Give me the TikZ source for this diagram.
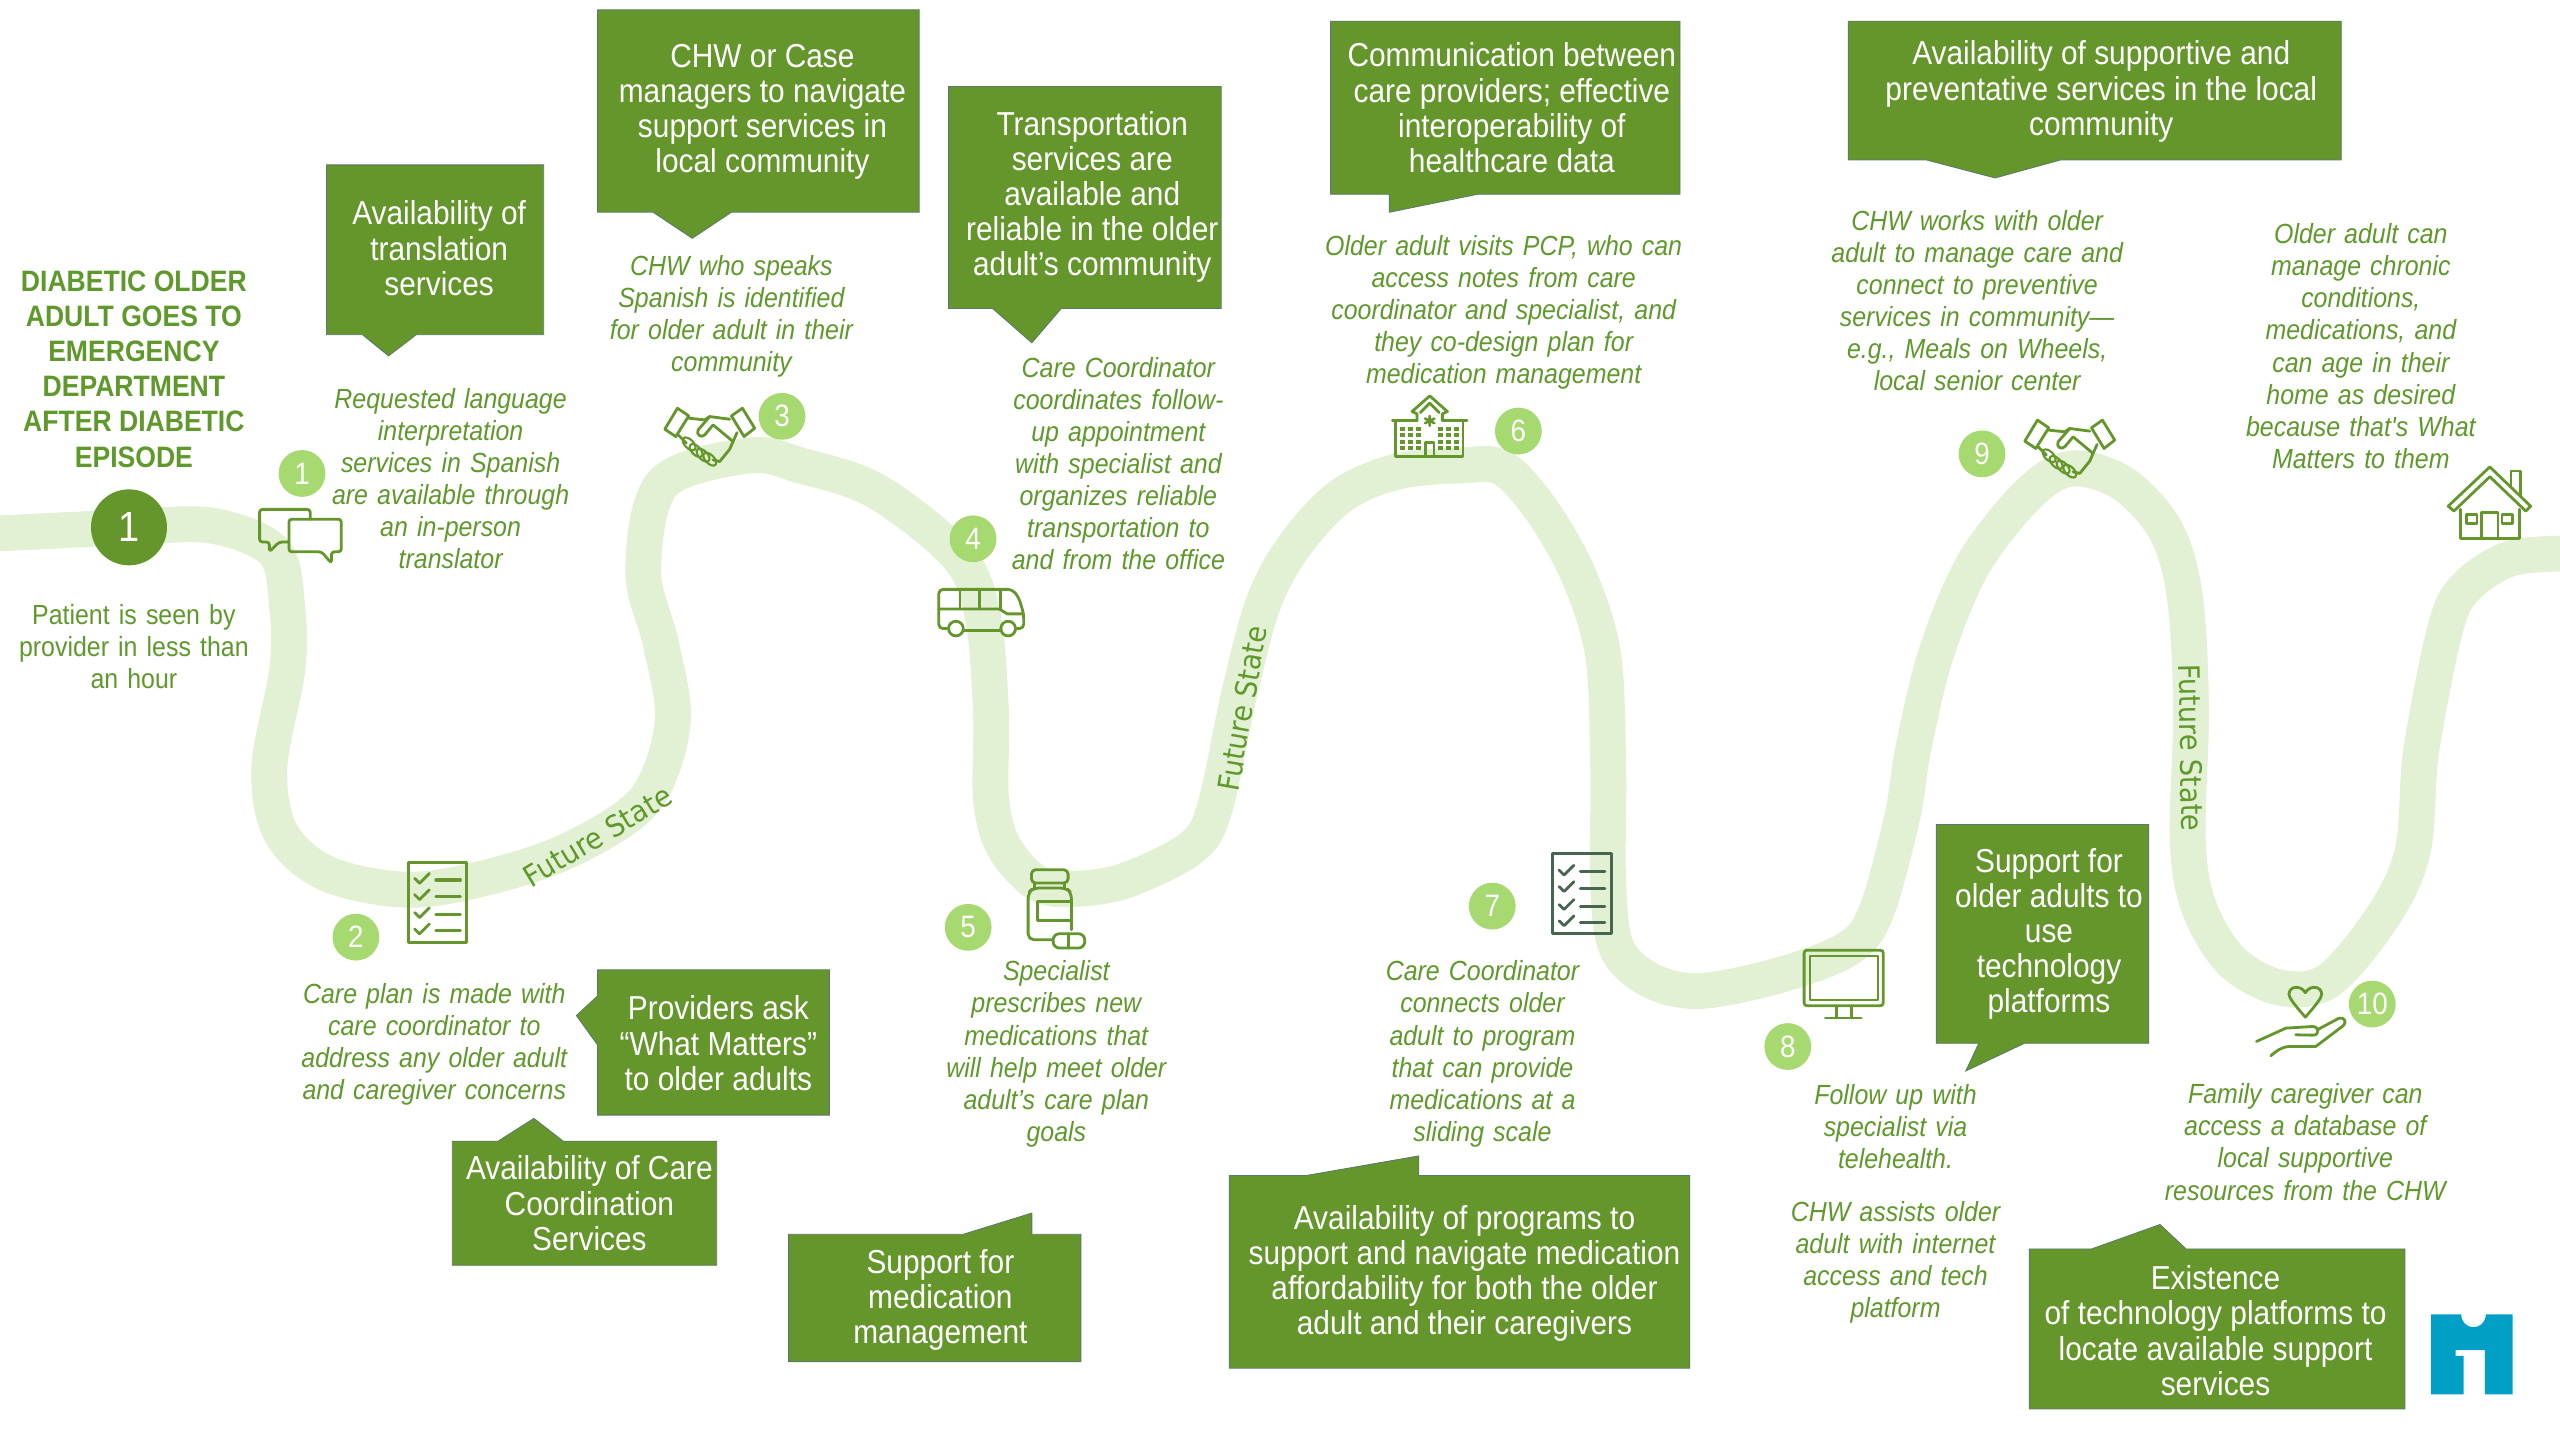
\documentclass[tikz,border=0pt]{standalone}
\usepackage{fontspec}
\setmainfont[FakeStretch=0.9]{Liberation Sans}
\newfontfamily\bodyfam{Liberation Sans}[FakeStretch=0.9,WordSpace=1.32]
\newfontfamily\fsfont{DejaVu Sans}[FakeStretch=0.92]
\definecolor{gtext}{HTML}{5F982B}
\definecolor{gbox}{HTML}{64962B}
\definecolor{gedge}{HTML}{5C7A68}
\definecolor{gpath}{HTML}{E2F0D3}
\definecolor{gnum}{HTML}{A6D96F}
\definecolor{gdark}{HTML}{47664F}
\definecolor{logo}{HTML}{00A0C6}
\tikzset{
  body/.style={text=gtext,align=center,inner sep=0pt,font=\fontsize{19.7}{22.8}\bodyfam\itshape},
  plain/.style={text=gtext,align=center,inner sep=0pt,font=\fontsize{19.7}{22.8}\bodyfam},
  title/.style={text=gtext,align=center,inner sep=0pt,font=\fontsize{21}{25}\selectfont\bfseries},
  boxtext/.style={text=white,align=center,inner sep=0pt,font=\fontsize{23.6}{25}\selectfont},
  callout/.style={fill=gbox,draw=gedge,line width=.6pt},
  num/.style={circle,fill=gnum,text=white,inner sep=0pt,minimum size=1.17cm,font=\fontsize{22}{24}\selectfont},
  icon/.style={draw=gbox,line width=2pt,line join=round,line cap=round},
  fstate/.style={text=gtext,inner sep=0pt,font=\fontsize{21}{24}\fsfont},
}
\newcommand\handshake[2]{%
  \begin{scope}[shift={(#1,#2)},scale=.204,icon]
    \draw (83,85)--(117,108)--(78,170)--(45,148)--cycle;
    \draw (278,85)--(245,108)--(283,170)--(315,145)--cycle;
    \draw (117,115)--(165,120) (165,120)--(180,110)--(240,118);
    \draw (180,110)--(145,150) .. controls (138,165) and (155,175) .. (165,165)--(190,135)--(250,185);
    \draw (262,158)--(250,185)--(240,208)--(210,245)--(190,240);
    \draw (85,165)--(110,190);
    \foreach \a/\b in {118/192,139/212,160/226,180/238}
      \draw[line width=1.5pt,rotate around={-45:(\a,\b)}] (\a,\b) ellipse [x radius=24,y radius=13];
  \end{scope}}
\newcommand\chklist[3]{%
  \begin{scope}[shift={(#1,#2)},line cap=round,line join=round]
    \draw[draw=#3,line width=2.2pt] (0,0) rectangle (36,49);
    \foreach \r in {12,22,33,43}{
      \draw[draw=#3,line width=2pt] (4,\r-2)--(7,\r+1)--(13,\r-5);
      \draw[draw=#3,line width=2.2pt] (17,\r-1)--(32,\r-1);}
  \end{scope}}
\begin{document}
\begin{tikzpicture}[x=0.0408163cm,y=-0.0408163cm]
\useasboundingbox (0,0) rectangle (1568,882);
% road
\draw[gpath,line width=25.5pt,line cap=butt] plot[smooth,tension=.55] coordinates{
 (-6,327)(78,323)(130,322)(168,338)(176,373)(176,410)(165,470)(172,510)(200,535)(250,545)(300,537)
 (350,520)(395,490)(412,443)(405,395)(394,350)(406,296)(459,279)(490,285)(537,301)(587,341)(602,378)(607,437)(607,489)
 (615,519)(637,542)(665,544)(693,538)(730,519)(744,495)(759,425)(774,369)(793,334)(821,304)(855,289)(896,285)(921,287)
 (946,315)(968,355)(982,402)(985,470)(985,540)(990,580)(1010,600)(1041,607)(1091,597)(1132,581)(1149,559)(1165,501)
 (1172,458)(1186,400)(1209,345)(1243,302)(1269,287)(1300,296)(1326,324)(1338,364)(1342,433)(1340,515)(1347,556)(1367,589)
 (1397,605)(1427,600)(1461,559)(1478,520)(1483,460)(1498,384)(1511,359)(1538,342)(1574,339)};
% callouts
\draw[callout] (200,101)--(333,101)--(333,205)--(255,205)--(238,218)--(222,205)--(200,205)--cycle;
\draw[callout] (366,6)--(563,6)--(563,130)--(448,130)--(424,146)--(400,130)--(366,130)--cycle;
\draw[callout] (581,53)--(748,53)--(748,189)--(650,189)--(632,210)--(608,189)--(581,189)--cycle;
\draw[callout] (815,13)--(1029,13)--(1029,119)--(905,119)--(851,130)--(851,119)--(815,119)--cycle;
\draw[callout] (1132,13)--(1434,13)--(1434,98)--(1262,98)--(1222,109)--(1180,98)--(1132,98)--cycle;
\draw[callout] (366,594)--(508,594)--(508,683)--(366,683)--(366,640)--(353,622)--(366,610)--cycle;
\draw[callout] (277,699)--(305,699)--(327,685)--(345,699)--(439,699)--(439,775)--(277,775)--cycle;
\draw[callout] (483,756)--(590,756)--(632,743)--(632,756)--(662,756)--(662,834)--(483,834)--cycle;
\draw[callout] (753,720)--(800,720)--(869,708)--(869,720)--(1035,720)--(1035,838)--(753,838)--cycle;
\draw[callout] (1186,505)--(1316,505)--(1316,639)--(1240,639)--(1204,656)--(1212,639)--(1186,639)--cycle;
\draw[callout] (1243,765)--(1281,765)--(1323,750)--(1339,765)--(1473,765)--(1473,863)--(1243,863)--cycle;
% callout texts
\node[boxtext] (bt1) at (269,152) {Availability of\\translation\\services};
\node[boxtext] (bt2) at (467,68.5) {CHW or Case\\managers to navigate\\support services in\\local community};
\node[boxtext] (bt3) at (669,120.5) {Transportation\\services are\\available and\\reliable in the older\\adult’s community};
\node[boxtext] (bt4) at (926,66) {Communication between\\care providers; effective\\interoperability of\\healthcare data};
\node[boxtext] (bt5) at (1287,56) {Availability of supportive and\\preventative services in the local\\community};
\node[boxtext] (bt6) at (440,639) {Providers ask\\“What Matters”\\to older adults};
\node[boxtext] (bt7) at (361,737) {Availability of Care\\Coordination\\Services};
\node[boxtext] (bt8) at (576,796) {Support for\\medication\\management};
\node[boxtext] (bt9) at (897,780) {Availability of programs to\\support and navigate medication\\affordability for both the older\\adult and their caregivers};
\node[boxtext] (bt10) at (1255,572) {Support for\\older adults to\\use\\technology\\platforms};
\node[boxtext] (bt11) at (1357,815) {Existence\\of technology platforms to\\locate available support\\services};
% title and body
\node[title] (ttl) at (82,226) {DIABETIC OLDER\\ADULT GOES TO\\EMERGENCY\\DEPARTMENT\\AFTER DIABETIC\\EPISODE};
\node[circle,fill=gbox,text=white,inner sep=0pt,minimum size=1.9cm,font=\fontsize{30}{32}\selectfont] (n0) at (79,323) {1};
\node[plain] (t0) at (82,396) {Patient is seen by\\provider in less than\\an hour};
\node[body] (t1) at (276,293) {Requested language\\interpretation\\services in Spanish\\are available through\\an in-person\\translator};
\node[body] (t3) at (448,193.5) {CHW who speaks\\Spanish is identified\\for older adult in their\\community};
\node[body] (t4) at (685,284) {Care Coordinator\\coordinates follow-\\up appointment\\with specialist and\\organizes reliable\\transportation to\\and from the office};
\node[body] (t6) at (921,191.5) {Older adult visits PCP, who can\\access notes from care\\coordinator and specialist, and\\they co-design plan for\\medication management};
\node[body] (t9) at (1211,184) {CHW works with older\\adult to manage care and\\connect to preventive\\services in community—\\e.g., Meals on Wheels,\\local senior center};
\node[body] (t11) at (1446,212) {Older adult can\\manage chronic\\conditions,\\medications, and\\can age in their\\home as desired\\because that{\char"27}s What\\Matters to them};
\node[body] (t2) at (266,639.5) {Care plan is made with\\care coordinator to\\address any older adult\\and caregiver concerns};
\node[body] (t5) at (647,645.5) {Specialist\\prescribes new\\medications that\\will help meet older\\adult’s care plan\\goals};
\node[body] (t7) at (908,645.5) {Care Coordinator\\connects older\\adult to program\\that can provide\\medications at a\\sliding scale};
\node[body] (t8) at (1161,690) {Follow up with\\specialist via\\telehealth.};
\node[body] (t8b) at (1161,773) {CHW assists older\\adult with internet\\access and tech\\platform};
\node[body] (t10) at (1412,699.5) {Family caregiver can\\access a database of\\local supportive\\resources from the CHW};
% numbers
\node[num] (n1) at (185,290) {1};
\node[num] (n2) at (218,574) {2};
\node[num] (n3) at (479,255) {3};
\node[num] (n4) at (596,330) {4};
\node[num] (n5) at (593,568) {5};
\node[num] (n6) at (930,264) {6};
\node[num] (n7) at (914,555) {7};
\node[num] (n8) at (1095,641) {8};
\node[num] (n9) at (1214,278) {9};
\node[num] (n10) at (1453,615) {10};
% future state
\node[fstate,rotate=31] (f1) at (366,512) {Future State};
\node[fstate,rotate=80] (f2) at (761,434) {Future State};
\node[fstate,rotate=-89] (f3) at (1342,458) {Future State};
% speech bubbles
\draw[icon,rounded corners=2pt] (177,332)--(171,332)--(165,338)--(165,332)--(159,332)--(159,312)--(190,312)--(190,318);
\draw[icon,rounded corners=2pt] (177,318)--(209,318)--(209,338)--(203,338)--(203,345)--(197,338)--(177,338)--cycle;
% handshakes
\handshake{398}{232.7}
\handshake{1231}{240}
% checklists
\chklist{250}{528}{gbox}
\chklist{951}{523}{gdark}
% bus
\begin{scope}[icon]
  \draw[rounded corners=3pt] (580,385)--(575,385)--(575,361)--(620,361)--(624,366)--(627,376)--(627,385)--(623,385);
  \draw (575,373)--(612,373)--(617,376)--(627,376);
  \draw (588,361)--(588,373) (600,361)--(600,373) (613,361)--(613,373);
  \draw (585.5,385) circle (4.5) (617.5,385) circle (4.5);
  \draw (590.5,386)--(612.5,386);
\end{scope}
% bottle
\begin{scope}[shift={(618.5,526.6)},scale=.204,icon]
  \draw[rounded corners=3pt] (65,30) rectangle (175,70);
  \draw (75,70)--(75,85) (165,70)--(165,85);
  \draw[rounded corners=4pt] (125,240)--(55,240)--(55,100)--(70,85)--(170,85)--(185,100)--(185,210);
  \draw (185,125)--(82,125)--(82,183)--(185,183);
  \draw[rounded corners=4.5pt] (130,222) rectangle (225,265);
  \draw (175,222)--(175,265);
\end{scope}
% hospital
\begin{scope}[shift={(845.1,238.8)},scale=.204,icon]
  \draw (48,92)--(48,200)--(250,200)--(250,92);
  \draw (38,92)--(112,92) (188,92)--(262,92);
  \draw (112,92)--(112,72)--(97,65)--(150,18)--(203,65)--(188,72)--(188,92);
  \draw (122,68)--(150,40)--(178,68);
  \draw[line width=1.8pt] (150,78)--(150,108) (136,86)--(164,100) (136,100)--(164,86);
  \draw (137,198)--(137,158)--(163,158)--(163,198);
  \foreach \a in {68,92,116,182,206,230}
    \foreach \b in {116,136,156,174}
      \fill[gbox] (\a-7,\b-6) rectangle (\a+7,\b+6);
\end{scope}
% monitor
\begin{scope}[icon]
  \draw[rounded corners=2pt] (1105,582) rectangle (1153.5,616);
  \draw[line width=1.5pt] (1108.5,585.5) rectangle (1150,612.5);
  \draw (1125,616)--(1125,623) (1134,616)--(1134,623);
  \draw (1118,623.5)--(1140,623.5);
\end{scope}
% heart and hand
\draw[icon] (1412,623) .. controls (1405,615) and (1402,611) .. (1402,609) .. controls (1402,604) and (1409,603) .. (1412,608) .. controls (1415,603) and (1422,604) .. (1422,609) .. controls (1422,611) and (1419,615) .. cycle;
\begin{scope}[shift={(1347,612.4)},scale=.204,icon]
  \draw (172,125)--(260,85)--(340,80) .. controls (362,80) and (362,108) .. (340,106)--(290,105);
  \draw (358,88)--(420,55) .. controls (435,50) and (445,68) .. (432,78)--(350,140)--(270,140) .. controls (245,142) and (230,155) .. (215,168);
\end{scope}
% house
\begin{scope}[icon]
  \draw (1499.5,310)--(1525,286)--(1550,310)--(1547,313)--(1525,292)--(1503,313)--cycle;
  \draw (1538,298)--(1538,288.5)--(1544,288.5)--(1544,304);
  \draw (1507,312)--(1507,330)--(1543,330)--(1543,312);
  \draw (1520,330)--(1520,314)--(1530,314)--(1530,330);
  \draw[line width=1.8pt] (1510.6,315) rectangle (1517,320.5) (1532.5,315) rectangle (1539,320.5);
\end{scope}
% logo
\fill[logo] (1489,805)--(1507.5,805) .. controls (1507.5,815.5) and (1522.5,815.5) .. (1522.5,805)--(1539,805)--(1539,854)--(1522,854)--(1522,827)--(1504,827)--(1504,830.5)--(1509,830.5)--(1509,854)--(1489,854)--cycle;
\end{tikzpicture}
\end{document}
